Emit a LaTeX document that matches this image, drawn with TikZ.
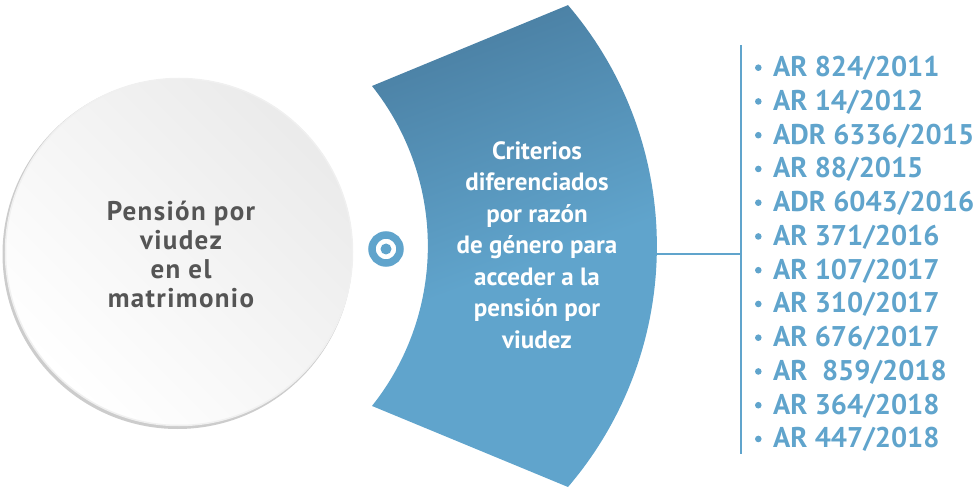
\documentclass[tikz,border=0pt]{standalone}
\usepackage{fontspec}
\setmainfont{PT Sans}
\newfontfamily\anchafont[LetterSpace=5]{PT Sans}
\usepackage{xcolor}
\usetikzlibrary{positioning, calc}

\definecolor{listblue}{RGB}{96,164,204}
\definecolor{deepblue}{RGB}{72,123,158}
\definecolor{textgray}{RGB}{85,85,85}
\pgfdeclareverticalshading{bandshade}{100bp}{color(0bp)=(listblue); color(48bp)=(listblue); color(80bp)=(deepblue); color(100bp)=(deepblue)}

\begin{document}
\begin{tikzpicture}[x=1pt, y=1pt,
    fallo/.style={font=\bfseries\fontsize{28.5}{33.75}\selectfont, text=listblue, anchor=base west, inner sep=0pt},
    bloque/.style={align=center, inner sep=0pt, font=\bfseries\fontsize{25}{31.5}\selectfont}]
            \useasboundingbox (0,0) rectangle (980,488);

            % gray circle
            \fill[black!20] (177.5,234) circle (175);
            \draw (179,236) node[circle, minimum size=347, inner sep=0pt, draw=black!6, line width=1.5,
                  top color=black!8, middle color=white, bottom color=white, shading angle=-45] (pension) {};
            \draw (181,234) node[bloque, text=textgray, font=\anchafont\bfseries\fontsize{27}{29}\selectfont] (pensiontxt)
                  {Pensión por\\viudez\\en el\\matrimonio};

            % target icon
            \draw (386,239) node[circle, draw=listblue, line width=7.5, minimum size=28, inner sep=0pt] (target) {};
            \draw (target.center) node[circle, fill=listblue, minimum size=11, inner sep=0pt] (dot) {};

            % blue band
            \shade[shading=bandshade, shading angle=20]
                  (372,402) arc[start angle=38.5, end angle=-38.5, radius=257]
                  -- (568,1) arc[start angle=-40.5, end angle=40.5, radius=371] -- cycle;
            \draw (537,243) node[bloque, text=white] (criterios) {Criterios\\diferenciados\\por razón\\de género para\\acceder a la\\pensión por\\viudez};

            % bracket
            \coordinate (tip) at (656.5,234);
            \coordinate (bar) at (741,234);
            \coordinate (bartop) at (741,443);
            \coordinate (barbot) at (741,34);
            \draw[listblue, line width=2.5] (tip) -- (bar);
            \draw[listblue, line width=2.8] (bartop) -- (barbot);

            % list of rulings
            \foreach \caso [count=\i] in {AR 824/2011, AR 14/2012, ADR 6336/2015, AR 88/2015,
                  ADR 6043/2016, AR 371/2016, AR 107/2017, AR 310/2017, AR 676/2017,
                  AR~~859/2018, AR 364/2018, AR 447/2018} {
                \pgfmathsetmacro{\yb}{411.3-33.75*(\i-1)}
                \fill[listblue] (758.3,\yb+9) circle (3.3);
                \draw (773,\yb) node[fallo] (fallo\i) {\caso};
            }
\end{tikzpicture}
\end{document}
